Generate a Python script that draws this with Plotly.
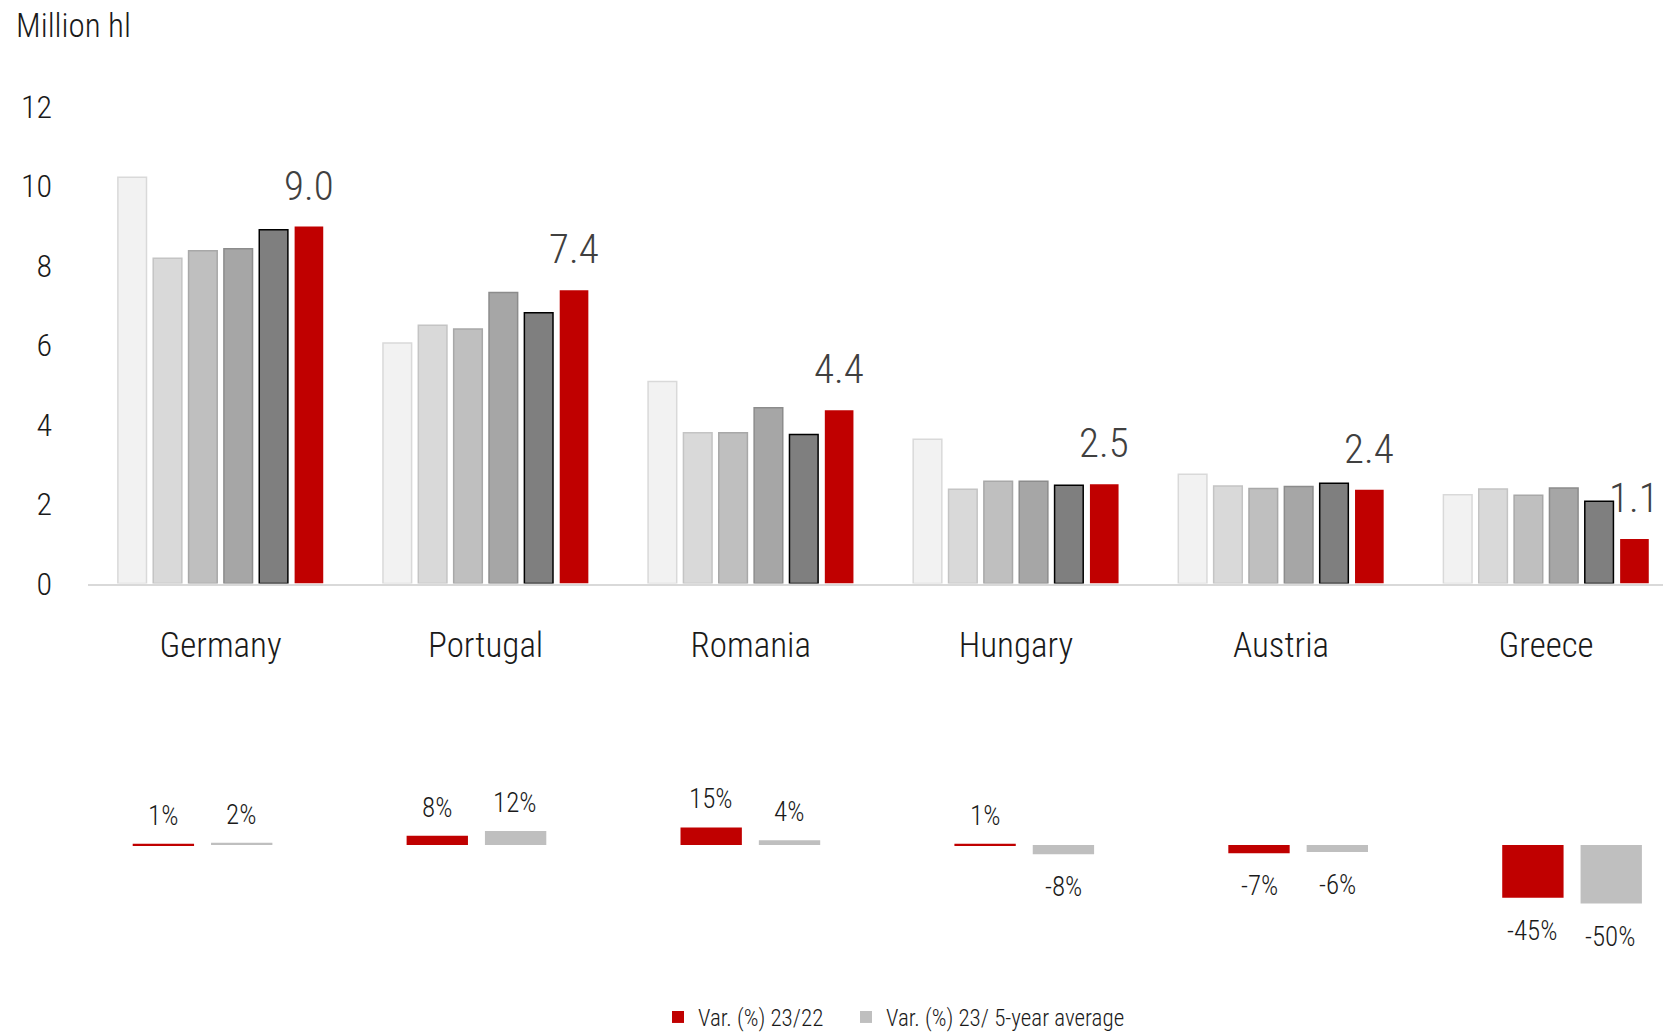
import plotly.graph_objects as go

countries = ["Germany", "Portugal", "Romania", "Hungary", "Austria", "Greece"]
years = ["2018", "2019", "2020", "2021", "2022", "2023"]
production = {
    "2018": [10.22, 6.05, 5.08, 3.63, 2.75, 2.23],
    "2019": [8.18, 6.5, 3.79, 2.37, 2.45, 2.38],
    "2020": [8.37, 6.4, 3.79, 2.57, 2.39, 2.22],
    "2021": [8.42, 7.32, 4.42, 2.57, 2.44, 2.4],
    "2022": [8.9, 6.81, 3.75, 2.47, 2.52, 2.07],
    "2023": [8.98, 7.38, 4.36, 2.5, 2.36, 1.12],
}
var_23_22 = [1, 8, 15, 1, -7, -45]
var_23_5y = [2, 12, 4, -8, -6, -50]
y_ticks = [0, 2, 4, 6, 8, 10, 12]

FONT = "Roboto Condensed, Roboto, sans-serif"
W, H = 1663, 1032

fills = ["#F2F2F2", "#D9D9D9", "#BFBFBF", "#A6A6A6", "#7F7F7F", "#C00000"]
lines = ["#D9D9D9", "#C4C4C4", "#A8A8A8", "#8C8C8C", "#000000", "#C00000"]
lwidth = [1.5, 1.5, 1.5, 1.5, 1.5, 0]

fig = go.Figure()
for i, yr in enumerate(years):
    fig.add_trace(go.Bar(
        x=countries, y=production[yr], name=yr, showlegend=False,
        marker=dict(color=fills[i], line=dict(color=lines[i], width=lwidth[i])),
        xaxis="x", yaxis="y", hoverinfo="x+y+name",
    ))

# lower panel: variations
fig.add_trace(go.Bar(
    x=countries, y=var_23_22, name="Var. (%) 23/22",
    marker=dict(color="#C00000", line=dict(width=0)),
    width=0.224, offset=-0.251, xaxis="x2", yaxis="y2", legend="legend",
))
fig.add_trace(go.Bar(
    x=countries, y=var_23_5y, name="Var. (%) 23/ 5-year average",
    marker=dict(color="#BFBFBF", line=dict(width=0)),
    width=0.224, offset=0.035, xaxis="x2", yaxis="y2", legend="legend2",
))

annotations = []
for c, v in zip(countries, production["2023"]):
    annotations.append(dict(
        x=c, y=v, xref="x", yref="y", text=f"{v:.1f}", showarrow=False,
        xshift=88, yshift=41, yanchor="middle",
        font=dict(family=FONT, size=41, color="#404040", weight=300),
    ))
for vals, xs in ((var_23_22, -38), (var_23_5y, 40)):
    for c, v in zip(countries, vals):
        annotations.append(dict(
            x=c, y=v, xref="x2", yref="y2", text=f"{v}%", showarrow=False,
            xshift=xs, yshift=(28 if v >= 0 else -33), yanchor="middle",
            font=dict(family=FONT, size=27, color="#1a1a1a", weight=300),
        ))
annotations.append(dict(
    x=14 / W, y=1 - 25 / H, xref="paper", yref="paper", text="Million hl",
    showarrow=False, xanchor="left", yanchor="middle",
    font=dict(family=FONT, size=33, color="#1a1a1a", weight=300),
))

legend_style = dict(orientation="h", xanchor="left", y=1 - 1017 / H,
                    yanchor="middle", bgcolor="rgba(0,0,0,0)",
                    font=dict(size=23, color="#1a1a1a", weight=300))

fig.update_layout(
    width=W, height=H, margin=dict(l=0, r=0, t=0, b=0, autoexpand=False),
    paper_bgcolor="white", plot_bgcolor="white",
    barmode="group", bargap=0.2, bargroupgap=0.19,
    font=dict(family=FONT, color="#1a1a1a", weight=300),
    xaxis=dict(domain=[88 / W, 1], range=[-0.5, 5.441], showline=True,
               linecolor="#D9D9D9", linewidth=2, showgrid=False, ticks="",
               ticklabelstandoff=29, automargin=False,
               tickfont=dict(size=35, color="#1a1a1a", weight=300),
               anchor="y"),
    yaxis=dict(domain=[1 - 583.5 / H, 1 - 106.5 / H], range=[0, 12],
               tickvals=y_ticks, showgrid=False, zeroline=False, showline=False,
               ticklabelstandoff=35, automargin=False,
               tickfont=dict(size=32, color="#1a1a1a", weight=300),
               anchor="x"),
    xaxis2=dict(domain=[64.5 / W, 1], range=[-0.5, 5.336], visible=False,
                anchor="y2", automargin=False),
    yaxis2=dict(domain=[1 - 915.2 / H, 1 - 809.9 / H], range=[-60, 30],
                visible=False, anchor="x2", automargin=False),
    legend=dict(x=658 / W, **legend_style),
    legend2=dict(x=846 / W, **legend_style),
    annotations=annotations,
)

fig.write_html(
    "out.html",
    config={"displayModeBar": False},
    post_script="document.body.style.margin='0';document.body.style.overflow='hidden';",
)
